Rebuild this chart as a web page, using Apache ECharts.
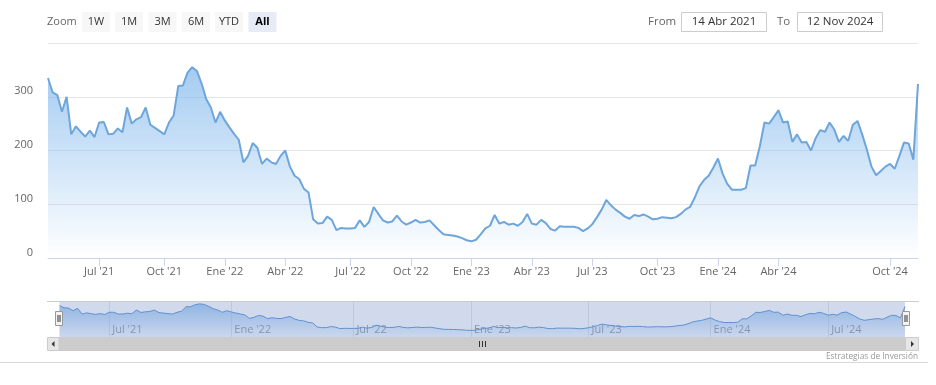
<!DOCTYPE html>
<html><head><meta charset="utf-8">
<script src="https://cdn.jsdelivr.net/npm/echarts@6/dist/echarts.min.js"></script>
<style>html,body{margin:0;padding:0;background:#fff}#c{width:936px;height:385px}</style>
</head><body><div id="c"></div>
<script>
// ---- data (roughly weekly samples, ordinal x axis) ----
const dates = [
'2021-04-14','2021-04-21','2021-04-28','2021-05-05','2021-05-12','2021-05-19','2021-05-26','2021-06-02','2021-06-09','2021-06-16',
'2021-06-23','2021-07-01','2021-07-08','2021-07-15','2021-07-22','2021-07-29','2021-08-05','2021-08-12','2021-08-19','2021-08-26',
'2021-09-02','2021-09-09','2021-09-16','2021-09-23','2021-09-28','2021-10-01','2021-10-08','2021-10-15','2021-10-22','2021-10-29',
'2021-11-05','2021-11-12','2021-11-19','2021-11-26','2021-12-03','2021-12-10','2021-12-17','2021-12-24','2022-01-03','2022-01-10',
'2022-01-17','2022-01-24','2022-01-31','2022-02-07','2022-02-14','2022-02-21','2022-02-28','2022-03-07','2022-03-14','2022-03-21',
'2022-03-28','2022-04-01','2022-04-08','2022-04-15','2022-04-22','2022-04-29','2022-05-06','2022-05-13','2022-05-20','2022-05-27',
'2022-06-03','2022-06-10','2022-06-17','2022-06-24','2022-06-28','2022-07-01','2022-07-08','2022-07-15','2022-07-22','2022-07-29',
'2022-08-05','2022-08-12','2022-08-19','2022-08-26','2022-09-02','2022-09-09','2022-09-16','2022-09-23','2022-10-03','2022-10-10',
'2022-10-17','2022-10-24','2022-10-31','2022-11-07','2022-11-14','2022-11-21','2022-11-28','2022-12-05','2022-12-12','2022-12-19',
'2022-12-27','2023-01-03','2023-01-10','2023-01-17','2023-01-24','2023-01-31','2023-02-07','2023-02-14','2023-02-21','2023-02-28',
'2023-03-07','2023-03-14','2023-03-21','2023-03-28','2023-04-03','2023-04-10','2023-04-17','2023-04-24','2023-05-01','2023-05-08',
'2023-05-15','2023-05-22','2023-05-29','2023-06-05','2023-06-12','2023-06-19','2023-06-26','2023-07-03','2023-07-10','2023-07-17',
'2023-07-24','2023-07-31','2023-08-07','2023-08-14','2023-08-21','2023-08-28','2023-09-04','2023-09-11','2023-09-18','2023-09-25',
'2023-09-28','2023-10-02','2023-10-09','2023-10-16','2023-10-23','2023-10-30','2023-11-06','2023-11-13','2023-11-20','2023-11-27',
'2023-12-04','2023-12-11','2023-12-18','2023-12-26','2024-01-02','2024-01-09','2024-01-16','2024-01-23','2024-01-30','2024-02-06',
'2024-02-13','2024-02-20','2024-02-27','2024-03-05','2024-03-12','2024-03-19','2024-03-26','2024-04-02','2024-04-09','2024-04-16',
'2024-04-23','2024-04-30','2024-05-07','2024-05-14','2024-05-21','2024-05-28','2024-06-04','2024-06-11','2024-06-18','2024-06-25',
'2024-07-01','2024-07-09','2024-07-17','2024-07-25','2024-08-02','2024-08-12','2024-08-20','2024-08-28','2024-09-05','2024-09-13',
'2024-09-23','2024-10-01','2024-10-08','2024-10-15','2024-10-22','2024-10-29','2024-11-05','2024-11-12'
];
const prices = [
335,308,303,272,300,230,245,235,226,237,
225,252,253,230,231,241,234,280,250,258,
262,280,248,242,236,230,252,265,320,321,
345,355,348,325,296,280,252,272,256,243,
231,220,178,190,214,205,175,185,178,175,
190,200,170,153,147,129,122,72,64,65,
77,71,52,56,55,55,56,70,58,67,
95,82,70,66,68,79,68,62,66,71,
66,67,70,61,52,44,43,42,40,37,
33,31,34,44,55,60,80,64,67,62,
64,60,67,82,64,62,71,65,54,51,
59,58,58,58,56,50,55,63,76,90,
108,98,90,84,77,73,80,78,81,77,
72,73,76,75,74,76,82,90,95,112,
133,145,153,168,185,157,138,127,127,127,
130,172,172,208,252,250,262,275,252,254,
216,230,215,216,200,223,238,235,252,239,
216,227,218,248,255,230,202,170,154,162,
170,175,166,190,215,213,183,324
];
const mainTickDates  = ['2021-07-01','2021-10-01','2022-01-03','2022-04-01','2022-07-01','2022-10-03','2023-01-03','2023-04-03','2023-07-03','2023-10-02','2024-01-02','2024-04-02','2024-10-01'];
const mainTickLabels = ["Jul '21","Oct '21","Ene '22","Abr '22","Jul '22","Oct '22","Ene '23","Abr '23","Jul '23","Oct '23","Ene '24","Abr '24","Oct '24"];
const navTickDates   = ['2021-07-01','2022-01-03','2022-07-01','2023-01-03','2023-07-03','2024-01-02','2024-07-01'];
const navTickLabels  = ["Jul '21","Ene '22","Jul '22","Ene '23","Jul '23","Ene '24","Jul '24"];
const zoomButtons = ['1W','1M','3M','6M','YTD','All'];
const fromText = '14 Abr 2021';
const toText = '12 Nov 2024';
const creditText = 'Estrategias de Inversión';

// ---- chart ----
const FONT = "'Open Sans', 'DejaVu Sans', sans-serif";
const mainMap = {}; mainTickDates.forEach((d,i)=>{mainMap[d]=mainTickLabels[i];});
const navMap = {};  navTickDates.forEach((d,i)=>{navMap[d]=navTickLabels[i];});
const isMain = (i, v) => Object.prototype.hasOwnProperty.call(mainMap, v);
const isNav  = (i, v) => Object.prototype.hasOwnProperty.call(navMap, v);

const chart = echarts.init(document.getElementById('c'), null, {renderer:'canvas'});

const g = [];
// range selector
g.push({type:'text', x:47, y:22, z:100, style:{text:'Zoom', fill:'#666', font:'11px '+FONT, textVerticalAlign:'middle', verticalAlign:'middle'}});
const btnX = [82,115,148.5,182,215,248.5];
zoomButtons.forEach((b,i)=>{
  const sel = b === 'All';
  g.push({type:'rect', z:100, shape:{x:btnX[i], y:12, width:28, height:20}, style:{fill: sel ? '#e6ebf5' : '#f7f7f7', stroke:'none'}});
  g.push({type:'text', z:101, x:btnX[i]+14, y:22, style:{text:b, fill: sel ? '#000' : '#333', font:(sel?'bold ':'')+'11px '+FONT, textAlign:'center', align:'center', textVerticalAlign:'middle', verticalAlign:'middle'}});
});
// from / to inputs
g.push({type:'text', x:648, y:21.5, z:100, style:{text:'From', fill:'#666', font:'11.5px '+FONT, textVerticalAlign:'middle', verticalAlign:'middle'}});
g.push({type:'rect', z:100, shape:{x:681.5, y:12.5, width:85, height:19}, style:{fill:'#fff', stroke:'#cccccc', lineWidth:1}});
g.push({type:'text', x:724, y:22, z:101, style:{text:fromText, fill:'#333', font:'11.5px '+FONT, textAlign:'center', align:'center', textVerticalAlign:'middle', verticalAlign:'middle'}});
g.push({type:'text', x:777, y:21.5, z:100, style:{text:'To', fill:'#666', font:'11.5px '+FONT, textVerticalAlign:'middle', verticalAlign:'middle'}});
g.push({type:'rect', z:100, shape:{x:797.5, y:12.5, width:85, height:19}, style:{fill:'#fff', stroke:'#cccccc', lineWidth:1}});
g.push({type:'text', x:840, y:22, z:101, style:{text:toText, fill:'#333', font:'11.5px '+FONT, textAlign:'center', align:'center', textVerticalAlign:'middle', verticalAlign:'middle'}});
// navigator mask + outline
g.push({type:'rect', z:50, shape:{x:59.5, y:301.5, width:845.5, height:35.5}, style:{fill:'rgba(102,133,194,0.3)'}});
g.push({type:'line', z:55, shape:{x1:47, y1:301.5, x2:919, y2:301.5}, style:{stroke:'#cccccc', lineWidth:1}});
// handles
[55.5, 902.5].forEach(hx=>{
  g.push({type:'rect', z:60, shape:{x:hx, y:311.5, width:7, height:14}, style:{fill:'#f2f2f2', stroke:'#999999', lineWidth:1}});
  g.push({type:'line', z:61, shape:{x1:hx+2.5, y1:315, x2:hx+2.5, y2:322}, style:{stroke:'#333', lineWidth:1}});
  g.push({type:'line', z:61, shape:{x1:hx+4.5, y1:315, x2:hx+4.5, y2:322}, style:{stroke:'#333', lineWidth:1}});
});
// scrollbar
g.push({type:'rect', z:60, shape:{x:59, y:337, width:846, height:14}, style:{fill:'#cccccc'}});
g.push({type:'rect', z:60, shape:{x:47.5, y:337.5, width:11.5, height:13}, style:{fill:'#e6e6e6', stroke:'#cccccc', lineWidth:1}});
g.push({type:'rect', z:60, shape:{x:905.5, y:337.5, width:13, height:13}, style:{fill:'#e6e6e6', stroke:'#cccccc', lineWidth:1}});
g.push({type:'polygon', z:61, shape:{points:[[51.5,344],[54.5,341],[54.5,347]]}, style:{fill:'#333'}});
g.push({type:'polygon', z:61, shape:{points:[[914,344],[911,341],[911,347]]}, style:{fill:'#333'}});
[479.5,482.5,485.5].forEach(lx=>{
  g.push({type:'line', z:61, shape:{x1:lx, y1:341, x2:lx, y2:347}, style:{stroke:'#333', lineWidth:1}});
});
// separator + credit
g.push({type:'line', z:60, shape:{x1:0, y1:362.5, x2:928, y2:362.5}, style:{stroke:'#d9d9d9', lineWidth:1}});
g.push({type:'text', x:918, y:356.5, z:60, style:{text:creditText, fill:'#999', font:'8.3px '+FONT, textAlign:'right', align:'right', textVerticalAlign:'middle', verticalAlign:'middle'}});

const option = {
  animation:false,
  textStyle:{fontFamily:FONT},
  grid:[
    {left:48, right:18, top:43, height:215, containLabel:false, outerBoundsMode:'none'},
    {left:59.5, right:31, top:301, height:36, containLabel:false, outerBoundsMode:'none'}
  ],
  xAxis:[
    {type:'category', gridIndex:0, data:dates, boundaryGap:false,
     axisLine:{show:true, lineStyle:{color:'#ccd6eb', width:1}},
     axisTick:{show:true, length:8, interval:isMain, lineStyle:{color:'#ccd6eb', width:1}},
     axisLabel:{interval:isMain, formatter:(v)=>mainMap[v]||'', color:'#666', fontSize:11, margin:8, fontFamily:FONT},
     splitLine:{show:false}},
    {type:'category', gridIndex:1, data:dates, boundaryGap:false,
     axisLine:{show:false}, axisTick:{show:false},
     axisLabel:{inside:true, interval:isNav, formatter:(v)=>navMap[v]||'', color:'#999', fontSize:11, align:'left', margin:2, padding:[0,0,0,3], fontFamily:FONT},
     splitLine:{show:true, interval:isNav, lineStyle:{color:'#e6e6e6', width:1}}}
  ],
  yAxis:[
    {type:'value', gridIndex:0, min:0, max:400, interval:100,
     axisLine:{show:false}, axisTick:{show:false},
     axisLabel:{color:'#666', fontSize:11, margin:15, showMaxLabel:false, verticalAlign:'bottom', lineHeight:11, fontFamily:FONT},
     splitLine:{show:true, lineStyle:{color:'#e6e6e6', width:1}}},
    {type:'value', gridIndex:1, min:-50, max:390, show:false, splitLine:{show:false}}
  ],
  series:[
    {type:'line', xAxisIndex:0, yAxisIndex:0, data:prices, symbol:'none', showSymbol:false, z:3,
     lineStyle:{color:'#6ea6dc', width:2},
     areaStyle:{origin:'start', color:new echarts.graphic.LinearGradient(0,0,0,1,[{offset:0,color:'rgba(124,181,236,1)'},{offset:1,color:'rgba(124,181,236,0)'}])}},
    {type:'line', xAxisIndex:1, yAxisIndex:1, data:prices, symbol:'none', showSymbol:false,
     lineStyle:{color:'#5f96d4', width:1},
     areaStyle:{origin:'start', color:new echarts.graphic.LinearGradient(0,0,0,1,[{offset:0,color:'rgba(124,181,236,1)'},{offset:1,color:'rgba(124,181,236,0.1)'}])}}
  ],
  graphic:g
};
chart.setOption(option);
</script>
</body></html>
